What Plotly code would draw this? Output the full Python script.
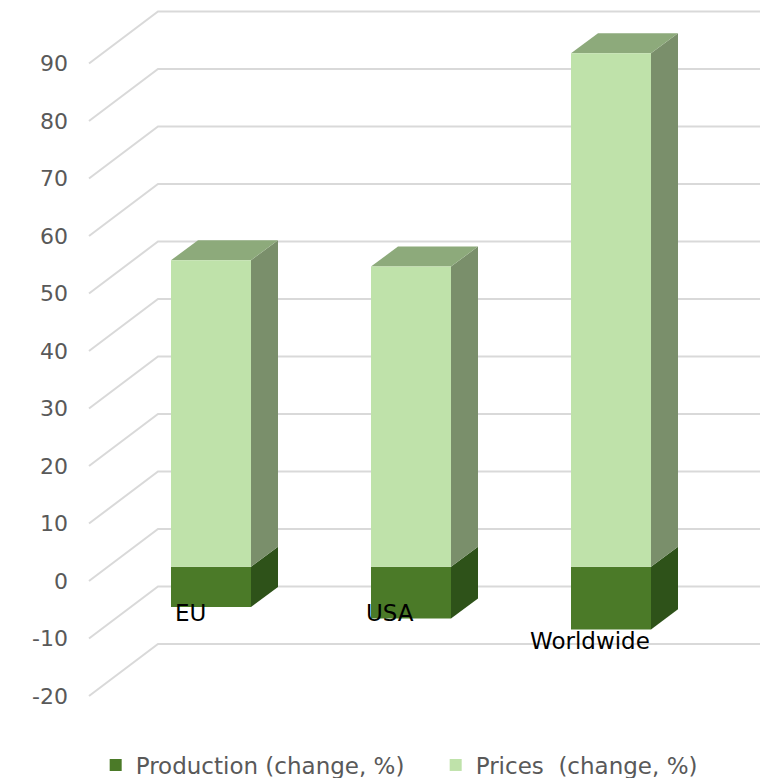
import plotly.graph_objects as go

# ---- data ----
categories = ["EU", "USA", "Worldwide"]
production = [-7.0, -9.0, -10.9]
prices = [53.3, 52.2, 89.3]
tick_values = [-20, -10, 0, 10, 20, 30, 40, 50, 60, 70, 80, 90]
series_names = ["Production (change, %)", "Prices  (change, %)"]

# ---- style / geometry ----
FONT = "DejaVu Sans"
c_prod = "#4B7A28"
c_prod_side = "#2E5219"
c_price = "#BFE2AA"
c_price_side = "#7A8F6B"
c_price_top = "#8DAA7B"
c_grid = "#D9D9D9"

bar_w = 0.4          # bar width in x units
dx, dy = 0.135, 3.48  # oblique depth of the bars (x units, y units)
wall_front_dy = -2.49  # side wall front edge relative to value (y units)
wall_back_dy = 6.56    # back wall relative to value (y units)
wall_front_x, wall_back_x, wall_right_x = -0.61, -0.265, 2.745
label_dx = -0.105
label_y = [-8.1, -8.1, -12.9]

xs = list(range(len(categories)))

fig = go.Figure()
fig.add_trace(go.Bar(x=xs, y=production, width=bar_w, name=series_names[0],
                     marker=dict(color=c_prod, line=dict(width=0))))
fig.add_trace(go.Bar(x=xs, y=prices, width=bar_w, name=series_names[1],
                     marker=dict(color=c_price, line=dict(width=0))))

shapes = []
# gridlines: side wall diagonal + back wall horizontal
for v in tick_values:
    shapes.append(dict(type="path", xref="x", yref="y", layer="below",
                       path=f"M{wall_front_x},{v + wall_front_dy} L{wall_back_x},{v + wall_back_dy} L{wall_right_x},{v + wall_back_dy}",
                       line=dict(color=c_grid, width=2)))


def poly(pts, color):
    p = "M" + " L".join(f"{a},{b}" for a, b in pts) + " Z"
    return dict(type="path", xref="x", yref="y", layer="below", path=p,
                fillcolor=color, line=dict(width=0))


for x, n, p in zip(xs, production, prices):
    r = x + bar_w / 2
    l = x - bar_w / 2
    # production side face
    shapes.append(poly([(r, n), (r, 0), (r + dx, dy), (r + dx, n + dy)], c_prod_side))
    # prices side face
    shapes.append(poly([(r, 0), (r, p), (r + dx, p + dy), (r + dx, dy)], c_price_side))
    # top face
    shapes.append(poly([(l, p), (r, p), (r + dx, p + dy), (l + dx, p + dy)], c_price_top))

annotations = []
for x, name, ly in zip(xs, categories, label_y):
    annotations.append(dict(x=x + label_dx, y=ly, xref="x", yref="y", text=name,
                            showarrow=False, font=dict(family=FONT, size=23, color="#000000")))

fig.update_layout(
    width=766, height=778,
    margin=dict(l=71, r=3, t=0, b=58, autoexpand=False),
    paper_bgcolor="white", plot_bgcolor="white",
    barmode="relative",
    shapes=shapes,
    annotations=annotations,
    showlegend=True,
    legend=dict(orientation="h", x=0.527, xanchor="center", y=-0.0625, yanchor="middle",
                traceorder="normal", font=dict(family=FONT, size=23, color="#595959"),
                entrywidth=295, entrywidthmode="pixels"),
    xaxis=dict(range=[-0.7, 2.76], visible=False, fixedrange=True),
    yaxis=dict(range=[-26.66, 98.56], showgrid=False, zeroline=False, showline=False,
               tickvals=[v + wall_front_dy for v in tick_values],
               ticktext=[str(v) for v in tick_values],
               ticks="", ticklabelstandoff=2,
               tickfont=dict(family=FONT, size=22, color="#595959")),
)

fig.write_html("out.html")
